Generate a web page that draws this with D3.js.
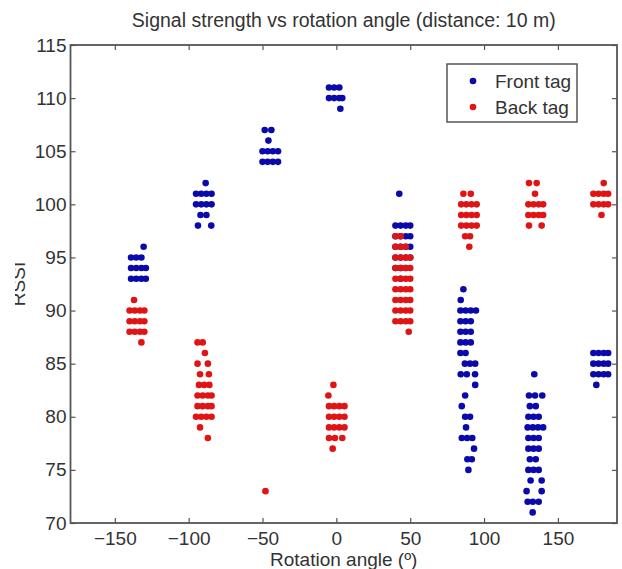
<!DOCTYPE html>
<meta charset="utf-8">

<!-- CSS styling-->
<style>
  body { margin: 0; background: #fff; }
  svg { font-family: "Liberation Sans", Arial, sans-serif; }
  .axis text { font-size: 19px; fill: #333; }
  .axis line { stroke: #555; stroke-width: 1.2; }
  .axis path { display: none; }
</style>

<svg id="svg" width="622" height="569"></svg>

<script src="https://cdn.jsdelivr.net/npm/d3@7"></script>
<script>

// ----------------------------------------------------------------------------
//                               DATA
// ----------------------------------------------------------------------------
// [rotation angle (deg), RSSI].
var frontTag = [
  // -135
  [-130.5,96],
  [-139,95],[-135.5,95],[-132,95],
  [-139,94],[-135.5,94],[-132,94],[-129,94],
  [-139,93],[-135.5,93],[-132,93],[-129,93],
  // -90
  [-88.5,102],
  [-95,101],[-91.5,101],[-88,101],[-84.5,101],
  [-95,100],[-91.5,100],[-88,100],[-84.5,100],
  [-92,99],[-88,99],
  [-93.7,98],[-84.7,98],
  // -45
  [-48.5,107],[-44,107],
  [-46,106],
  [-50,105],[-46.5,105],[-43,105],[-39.5,105],
  [-50,104],[-46.5,104],[-43,104],[-39.5,104],
  // 0
  [-5,111],[-1.5,111],[2,111],
  [-5,110],[-1.5,110],[2,110],[4,110],
  [2.7,109],
  // 45
  [42.6,101],
  [40,98],[43.5,98],[47,98],[50,98],
  [40,97],[43.5,97],[47,97],[50,97],
  [40,96],[43.5,96],[47,96],[50,96],
  [40,95],[43.5,95],[47,95],[50,95],
  [40,94],[43.5,94],[47,94],
  [43.5,93],
  // 90
  [86,92],[84.2,91],
  [84,90],[87.5,90],[91,90],[94.5,90],
  [84,89],[87.5,89],[91,89],
  [84,88],[87.5,88],[91,88],
  [84,87],[87.5,87],[91,87],
  [84,86],[87.5,86],
  [87,85],[90.5,85],[94,85],
  [84.2,84],[88.3,84],[93.9,84],
  [94,83],
  [87.2,82],
  [84.9,81],
  [87.2,80],[90.5,80],
  [87.8,79],
  [84.9,78],[88.5,78],[92,78],
  [93.2,77],
  [88.7,76],[91.7,76],
  [89.4,75],
  // 135
  [134,84],
  [130.4,82],[134.5,82],[139.4,82],
  [131,81],[135,81],
  [130,80],[133.5,80],[137,80],
  [129.5,79],[133,79],[136.5,79],[140,79],
  [130,78],[133.5,78],[137,78],
  [130,77],[133.5,77],[137,77],
  [131,76],[135,76],
  [130,75],[133.5,75],[137,75],
  [131.5,74],[139,74],
  [128.8,73],[139,73],
  [129.5,72],[133,72],[137,72],
  [132.9,71],
  // 180
  [174,86],[177.5,86],[181,86],[184,86],
  [174,85],[177.5,85],[181,85],[184,85],
  [174,84],[177.5,84],[181,84],[184,84],
  [176,83]
];

var backTag = [
  // -135
  [-137,91],
  [-140,90],[-136.5,90],[-133,90],[-130,90],
  [-140,89],[-136.5,89],[-133,89],[-130,89],
  [-140,88],[-136.5,88],[-133,88],[-130,88],
  [-132,87],
  // -90
  [-94,87],[-90.5,87],
  [-89,86],
  [-94,85],[-87,85],
  [-92.3,84],[-86.3,84],
  [-93,83],[-89.5,83],[-86,83],
  [-94,82],[-90.5,82],[-87,82],[-84.5,82],
  [-94,81],[-90.5,81],[-87,81],[-84.5,81],
  [-95,80],[-91.5,80],[-88,80],[-84.5,80],
  [-92.3,79],
  [-87,78],
  // -45
  [-48,73],
  // 0
  [-2,83],
  [-5.4,82],
  [-5,81],[-1.5,81],[2,81],[5.5,81],
  [-5,80],[-1.5,80],[2,80],[5.5,80],
  [-5,79],[-1.5,79],[2,79],[5.5,79],
  [-5,78],[-1,78],[4,78],
  [-2.5,77],
  // 45
  [40,97],[43.5,97],
  [40,96],[43.5,96],[47,96],
  [40,95],[43.5,95],[47,95],[50,95],
  [40,94],[43.5,94],[47,94],[50,94],
  [40,93],[43.5,93],[47,93],[50,93],
  [40,92],[43.5,92],[47,92],[50,92],
  [40,91],[43.5,91],[47,91],[50,91],
  [40,90],[43.5,90],[47,90],[50,90],
  [40,89],[43.5,89],[47,89],[50,89],
  [49,88],
  // 90
  [86,101],[91,101],
  [84.5,100],[88,100],[91.5,100],[95,100],
  [84.5,99],[88,99],[91.5,99],[95,99],
  [84.5,98],[88,98],[91.5,98],[95,98],
  [87.2,97],[90.5,97],
  [90,96],
  // 135
  [130.4,102],[135.6,102],
  [134.5,101],
  [130,100],[133.5,100],[137,100],[140,100],
  [130,99],[133.5,99],[137,99],[140,99],
  [130.4,98],[139,98],
  // 180
  [181,102],
  [174,101],[177.5,101],[181,101],[184,101],
  [174,100],[177.5,100],[181,100],[184,100],
  [179.5,99]
];

var xTicks = [-150, -100, -50, 0, 50, 100, 150];
var yTicks = [70, 75, 80, 85, 90, 95, 100, 105, 110, 115];
var seriesNames = ["Front tag", "Back tag"];
var seriesColors = ["#0a0aac", "#e01414"];

// ----------------------------------------------------------------------------
//                               CHART
// ----------------------------------------------------------------------------
var svg = d3.select("svg");

// Plot box (note: "top" is a reserved window global, so use other names).
var boxLeft = 70.5, boxRight = 617, boxTop = 45, boxBottom = 523;

var x = d3.scaleLinear().domain([-180, 190]).range([boxLeft, boxRight]);
var y = d3.scaleLinear().domain([70, 115]).range([boxBottom, boxTop]);

// Axes with inward ticks (matlab style).
svg.append("g")
    .attr("class", "axis")
    .attr("transform", "translate(0," + boxBottom + ")")
    .call(d3.axisBottom(x).tickValues(xTicks).tickSizeInner(-5).tickSizeOuter(0).tickPadding(9));

svg.append("g")
    .attr("class", "axis")
    .attr("transform", "translate(0," + boxTop + ")")
    .call(d3.axisTop(x).tickValues(xTicks).tickSizeInner(-5).tickSizeOuter(0).tickFormat(""));

svg.append("g")
    .attr("class", "axis")
    .attr("transform", "translate(" + boxLeft + ",0)")
    .call(d3.axisLeft(y).tickValues(yTicks).tickSizeInner(-5).tickSizeOuter(0).tickPadding(4));

svg.append("g")
    .attr("class", "axis")
    .attr("transform", "translate(" + boxRight + ",0)")
    .call(d3.axisRight(y).tickValues(yTicks).tickSizeInner(-5).tickSizeOuter(0).tickFormat(""));

// Box around the axes.
svg.append("rect")
    .attr("x", boxLeft).attr("y", boxTop)
    .attr("width", boxRight - boxLeft).attr("height", boxBottom - boxTop)
    .attr("fill", "none")
    .attr("stroke", "#555")
    .attr("stroke-width", 1.8);

// Points: front first, back drawn on top.
[frontTag, backTag].forEach(function(data, i) {
  svg.append("g")
    .selectAll("circle")
    .data(data)
    .enter().append("circle")
      .attr("cx", function(d) { return x(d[0]); })
      .attr("cy", function(d) { return y(d[1]); })
      .attr("r", 3.3)
      .attr("fill", seriesColors[i]);
});

// Title and labels.
svg.append("text")
    .attr("x", (boxLeft + boxRight) / 2)
    .attr("y", 27)
    .attr("text-anchor", "middle")
    .style("font-size", "19.5px")
    .style("fill", "#333")
    .text("Signal strength vs rotation angle (distance: 10 m)");

svg.append("text")
    .attr("x", (boxLeft + boxRight) / 2)
    .attr("y", 566)
    .attr("text-anchor", "middle")
    .style("font-size", "19px")
    .style("fill", "#333")
    .text("Rotation angle (º)");

// The y label is cut at the left edge in the original.
svg.append("clipPath")
    .attr("id", "ylabclip")
    .append("rect")
    .attr("x", 15).attr("y", 0).attr("width", 60).attr("height", 569);

svg.append("g")
    .attr("clip-path", "url(#ylabclip)")
    .append("text")
    .attr("transform", "translate(25," + (boxTop + boxBottom) / 2 + ") rotate(-90)")
    .attr("text-anchor", "middle")
    .style("font-size", "19px")
    .style("fill", "#333")
    .text("RSSI");

// Legend.
var legend = svg.append("g");

legend.append("rect")
    .attr("x", 447).attr("y", 64)
    .attr("width", 130).attr("height", 58)
    .attr("fill", "#fff")
    .attr("stroke", "#555")
    .attr("stroke-width", 1.5);

seriesNames.forEach(function(name, i) {
  var ly = 81 + i * 26;
  legend.append("circle")
      .attr("cx", 473).attr("cy", ly).attr("r", 3.3)
      .attr("fill", seriesColors[i]);
  legend.append("text")
      .attr("x", 495).attr("y", ly)
      .attr("dy", "0.35em")
      .style("font-size", "19px")
      .style("fill", "#333")
      .text(name);
});

</script>
